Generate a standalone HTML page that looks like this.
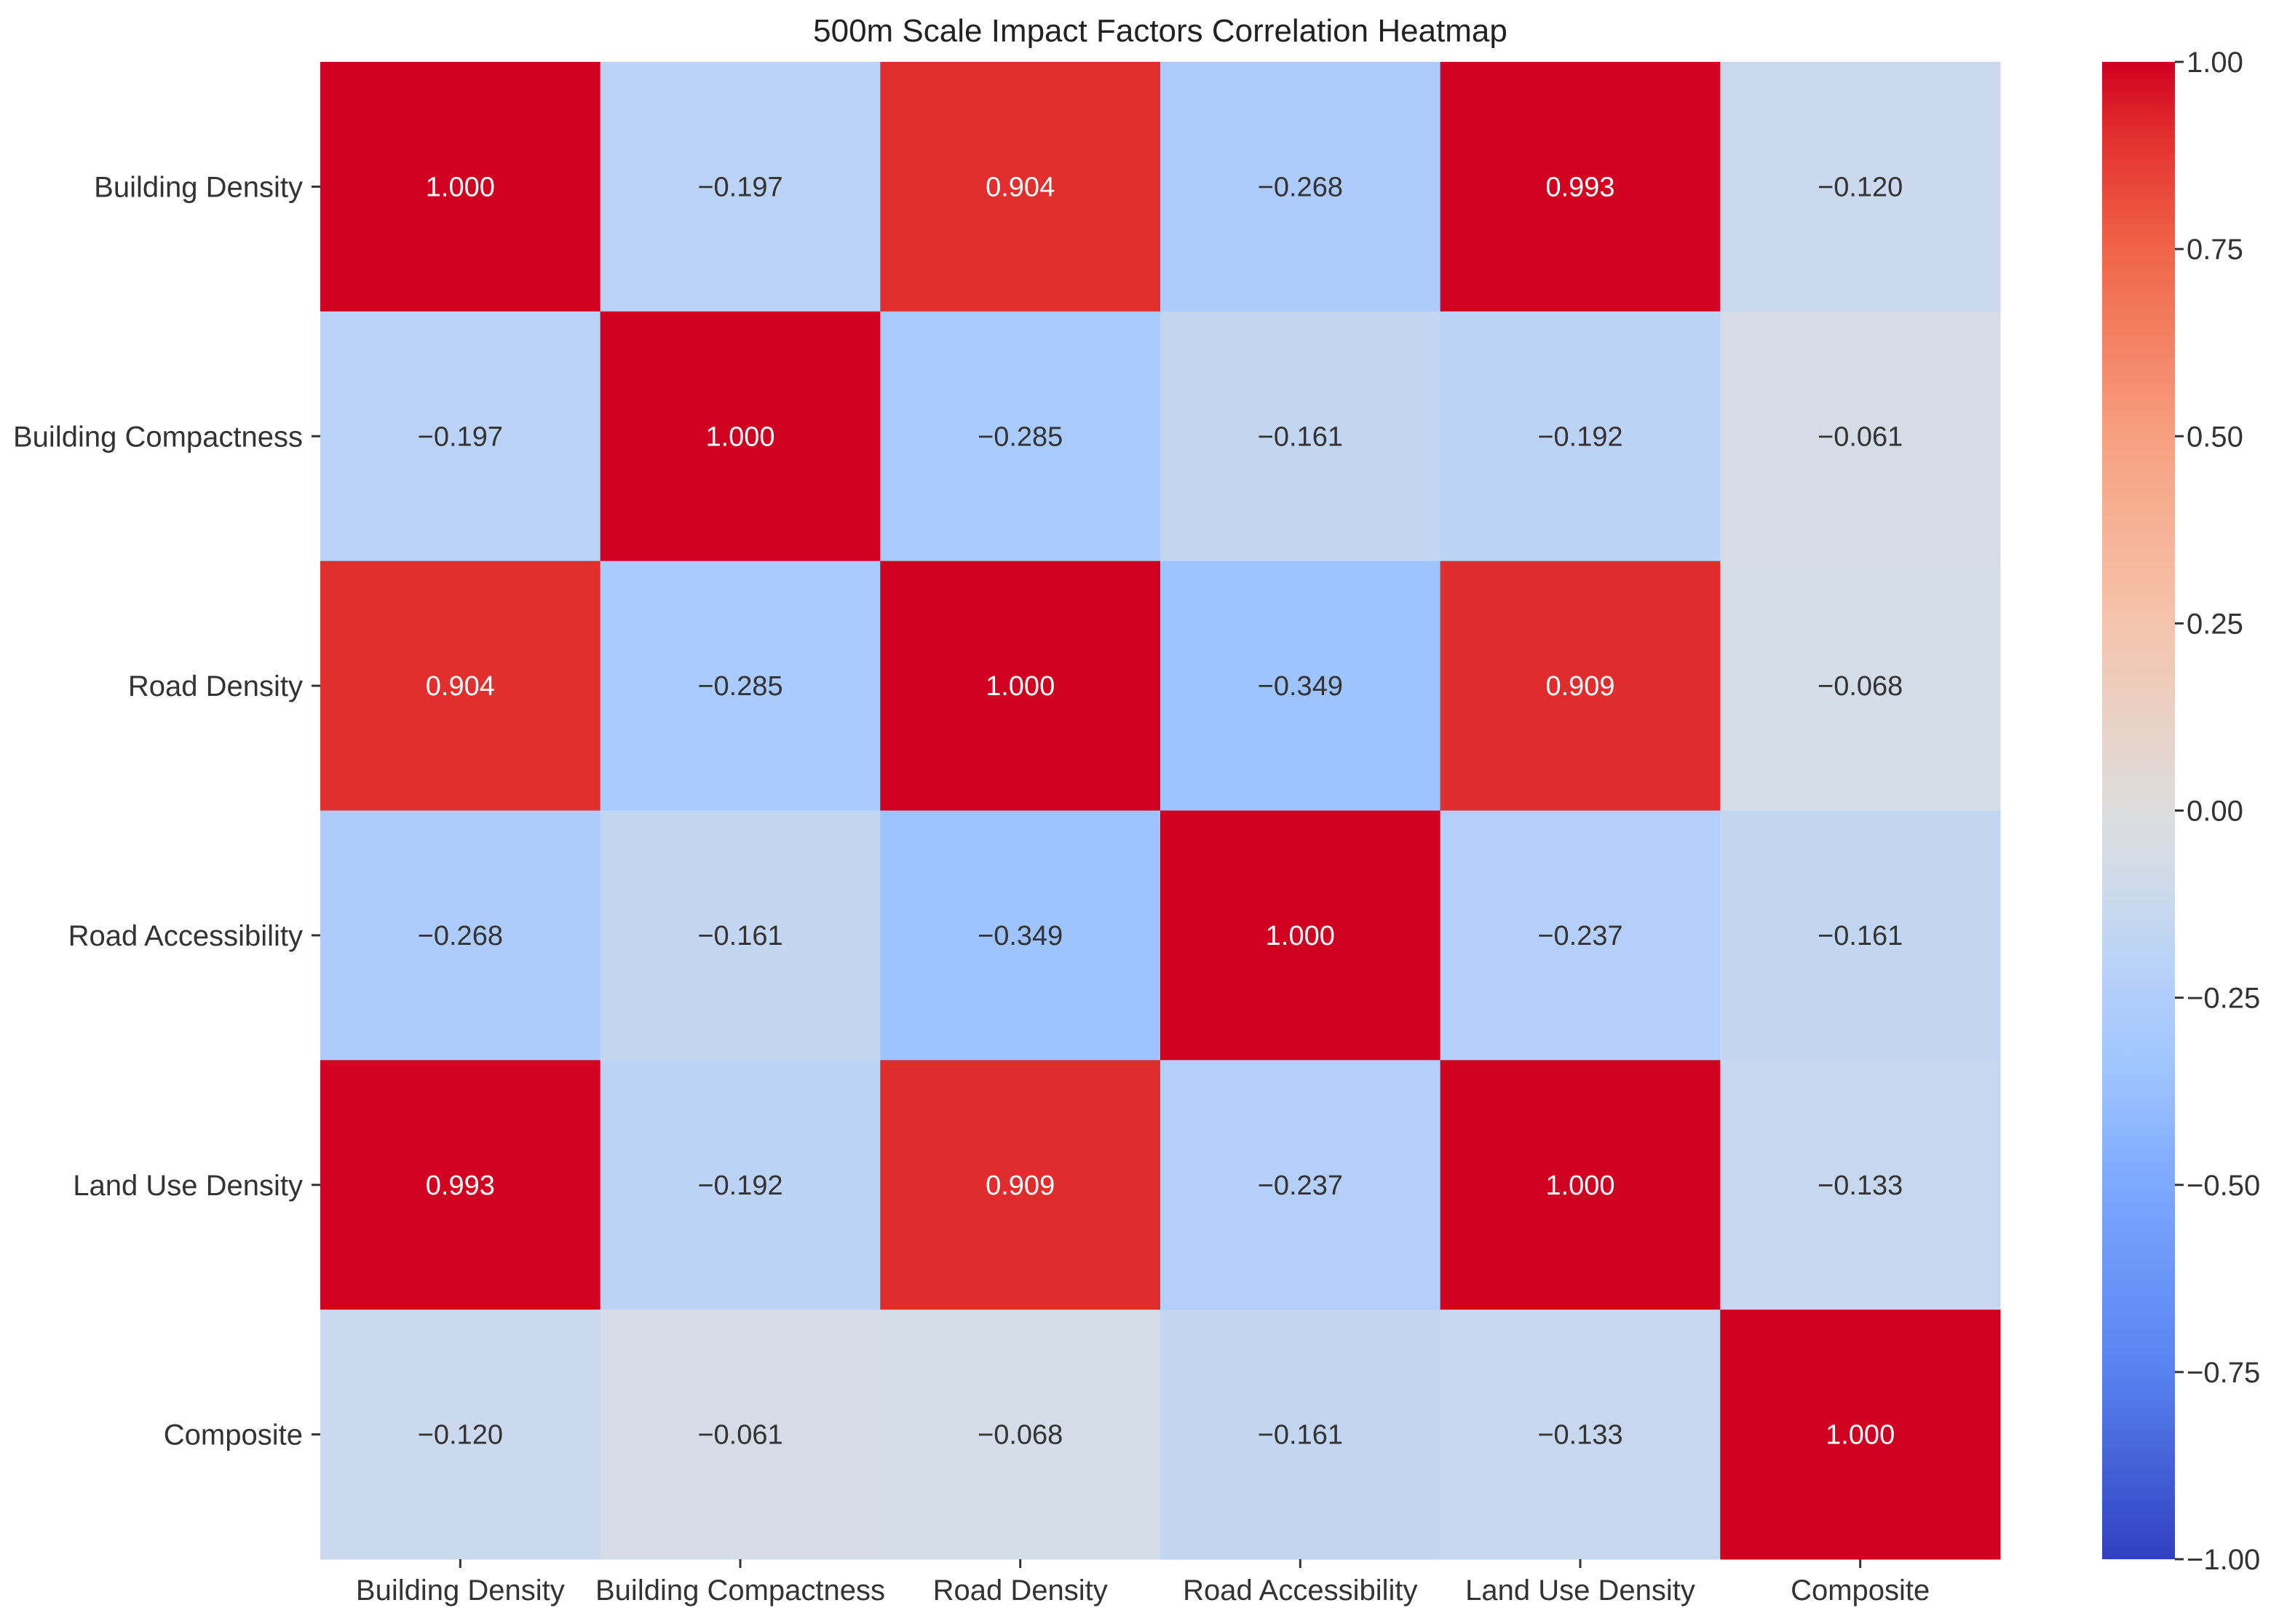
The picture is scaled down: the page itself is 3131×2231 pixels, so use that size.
<!DOCTYPE html>
<html><head><meta charset="utf-8"><style>
html,body{margin:0;padding:0;background:#fff;}
svg text{font-family:"Liberation Sans",Arial,sans-serif;}
</style></head><body>
<svg id="chart" width="3131" height="2226" viewBox="0 0 3131 2226" xmlns="http://www.w3.org/2000/svg">
<defs><linearGradient id="cbgrad" x1="0" y1="1" x2="0" y2="0"></linearGradient></defs>
<text x="1594" y="57" font-size="44" text-anchor="middle" fill="#222">500m Scale Impact Factors Correlation Heatmap</text>
<g id="cells"></g><g id="xaxis"></g><g id="yaxis"></g><g id="cbar"></g>
</svg>
<script>
const labels = ["Building Density","Building Compactness","Road Density","Road Accessibility","Land Use Density","Composite"];
const row0 = [1.000,-0.197,0.904,-0.268,0.993,-0.120];
const row1 = [-0.197,1.000,-0.285,-0.161,-0.192,-0.061];
const row2 = [0.904,-0.285,1.000,-0.349,0.909,-0.068];
const row3 = [-0.268,-0.161,-0.349,1.000,-0.237,-0.161];
const row4 = [0.993,-0.192,0.909,-0.237,1.000,-0.133];
const row5 = [-0.120,-0.061,-0.068,-0.161,-0.133,1.000];
const matrix = [row0,row1,row2,row3,row4,row5];
const cbTicks = [1.00,0.75,0.50,0.25,0.00,-0.25,-0.50,-0.75,-1.00];

const NS="http://www.w3.org/2000/svg";
const X0=440, X1=2748, Y0=85, Y1=2142;
const n=labels.length, cw=(X1-X0)/n, ch=(Y1-Y0)/n;
const xPos=i=>X0+i*cw, yPos=j=>Y0+j*ch;
const CB_X=2888, CB_W=100;
const cbY=v=>Y0+(1-v)/2*(Y1-Y0);
const stops=[[-1,[48,64,192]],[-0.75,[88,130,240]],[-0.5,[124,168,255]],[-0.35,[158,196,255]],[-0.25,[176,206,252]],[-0.15,[196,215,240]],[-0.06,[213,220,230]],[0,[221,221,221]],[0.25,[245,196,172]],[0.5,[247,160,128]],[0.75,[240,100,72]],[0.9,[227,48,46]],[1,[208,0,32]]];
function cmap(v){v=Math.max(-1,Math.min(1,v));for(let k=0;k<stops.length-1;k++){const[a,ca]=stops[k],[b,cb]=stops[k+1];if(v<=b){const t=(v-a)/(b-a);return "rgb("+ca.map((c,i)=>Math.round(c+(cb[i]-c)*t)).join(",")+")";}}return "rgb(208,0,32)";}
function mk(tag,attrs,parent){const e=document.createElementNS(NS,tag);for(const k in attrs)e.setAttribute(k,attrs[k]);parent.appendChild(e);return e;}
const cells=document.getElementById('cells');
matrix.forEach((row,j)=>row.forEach((v,i)=>{
  const r=mk('rect',{x:xPos(i),y:yPos(j),width:cw+0.5,height:ch+0.5,fill:cmap(v)},cells);
  
  
  const t=mk('text',{x:xPos(i)+cw/2,y:yPos(j)+ch/2+13,'font-size':38,'text-anchor':'middle',fill:v>0.5?'#fff':'#333'},cells);
  t.textContent=(v<0?'\u2212':'')+Math.abs(v).toFixed(3);
  
  
}));
const xa=document.getElementById('xaxis'), ya=document.getElementById('yaxis');
labels.forEach((l,i)=>{
  const cx=xPos(i)+cw/2;
  mk('line',{x1:cx,x2:cx,y1:Y1,y2:Y1+12,stroke:'#333','stroke-width':3},xa);
  const t=mk('text',{x:cx,y:Y1+56,'font-size':40,'text-anchor':'middle',fill:'#333'},xa);
  t.textContent=l;
  
  
  const cy=yPos(i)+ch/2;
  mk('line',{x1:X0-12,x2:X0,y1:cy,y2:cy,stroke:'#333','stroke-width':3},ya);
  const u=mk('text',{x:X0-24,y:cy+14,'font-size':40,'text-anchor':'end',fill:'#333'},ya);
  u.textContent=l;
  
  
});
const g=document.getElementById('cbgrad');
stops.forEach(s=>{mk('stop',{offset:((s[0]+1)/2*100)+'%','stop-color':cmap(s[0])},g);});
const cb=document.getElementById('cbar');
const bar=mk('rect',{x:CB_X,y:Y0,width:CB_W,height:Y1-Y0,fill:'url(#cbgrad)'},cb);


cbTicks.forEach(v=>{
  const y=cbY(v);
  mk('line',{x1:CB_X+CB_W,x2:CB_X+CB_W+12,y1:y,y2:y,stroke:'#333','stroke-width':3},cb);
  const t=mk('text',{x:CB_X+CB_W+16,y:y+14,'font-size':40,fill:'#333'},cb);
  t.textContent=(v<0?'\u2212':'')+Math.abs(v).toFixed(2);
  
  
});
</script>
</body></html>
